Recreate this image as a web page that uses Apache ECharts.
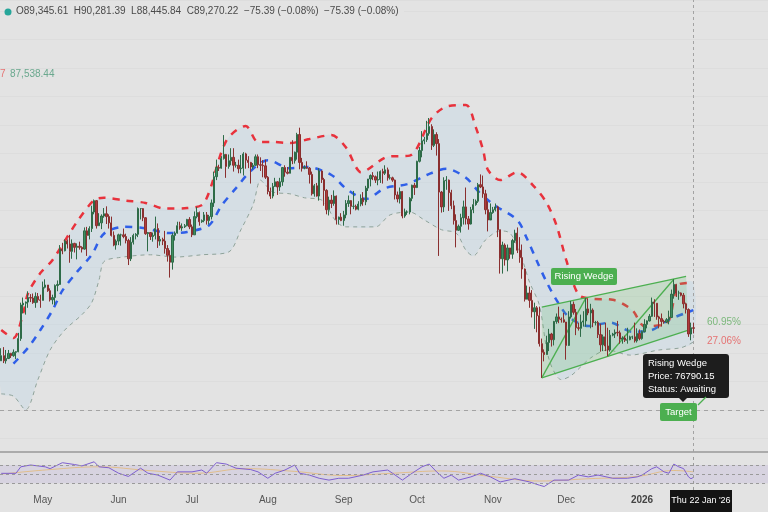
<!DOCTYPE html>
<html>
<head>
<meta charset="utf-8">
<style>
  html, body { margin: 0; padding: 0; background: #e3e3e3; }
  #chart { width: 768px; height: 512px; }
</style>
<script src="https://cdn.jsdelivr.net/npm/echarts@6/dist/echarts.min.js"></script>
</head>
<body>
<div id="chart"></div>
<script>
// daily candles from 2025-04-14, prices in thousands of USD (open = previous close)
const firstOpen = 83.6;
const closes = [
  84.5,83.6,84.0,84.9,84.5,85.1,85.2,87.5,93.4,93.7,93.9,94.7,94.6,93.8,94.9,94.3,94.2,
  96.5,96.9,95.9,94.3,94.7,96.8,97.0,103.2,102.9,104.6,104.1,102.8,104.2,103.5,103.7,103.5,103.2,106.4,105.6,106.8,109.7,111.7,107.3,107.8,109.0,109.4,108.9,107.8,105.6,103.9,104.6,
  105.7,105.7,105.4,104.7,101.5,104.4,105.6,105.8,110.3,110.3,108.7,105.9,106.1,105.4,105.6,106.8,104.6,104.9,104.6,103.3,102.1,100.9,105.6,106.0,107.3,106.9,107.1,107.3,108.4,107.1,
  105.7,108.9,109.6,108.0,108.2,109.2,108.2,108.9,111.3,115.9,117.5,117.4,119.1,119.8,117.7,118.7,119.3,117.9,117.9,117.3,117.4,119.9,118.8,118.4,117.6,117.9,119.4,118.0,117.9,117.8,115.8,
  113.3,112.5,114.2,115.0,114.1,115.0,117.5,116.7,116.5,119.3,118.7,120.2,123.3,118.4,117.4,117.5,117.4,116.3,112.9,114.3,112.5,116.9,115.4,113.5,110.1,111.8,111.2,112.5,108.4,108.8,108.2,
  109.2,111.2,111.7,110.7,110.7,110.2,111.1,112.1,111.5,113.9,115.5,116.1,115.9,115.3,115.4,116.8,116.5,117.1,115.7,115.7,115.3,112.7,112.0,113.3,109.0,109.7,109.7,112.1,114.4,114.0,
  118.6,120.5,122.2,122.4,123.5,124.7,121.4,123.3,121.7,113.2,110.6,115.2,115.3,113.1,110.8,108.2,106.5,107.2,108.7,110.6,108.5,107.6,110.1,111.0,111.6,114.5,114.1,112.9,110.1,108.3,109.6,
  110.1,110.6,106.6,101.5,103.9,101.3,103.4,102.3,104.7,106.0,103.0,101.7,99.7,94.4,95.5,94.2,92.2,92.9,91.5,86.6,85.1,84.7,86.8,88.3,87.3,90.5,91.3,90.9,90.8,90.4,
  86.3,91.3,93.5,92.1,89.4,89.3,90.4,90.6,92.7,92.0,92.5,90.3,90.3,88.2,86.4,87.8,86.2,85.5,88.1,88.3,88.6,88.5,87.4,87.6,87.2,87.3,87.8,87.8,87.1,88.4,87.5,
  88.7,90.0,90.6,91.4,93.9,93.7,91.3,91.0,90.5,90.4,90.8,91.2,95.3,97.0,95.5,95.5,95.1,93.6,92.6,88.3,89.4,89.3
];
const highs = [
  85.8,86.0,85.5,85.5,85.0,85.6,85.3,88.5,93.8,94.7,94.0,95.8,95.3,95.4,95.6,95.5,95.2,
  97.5,97.9,96.9,96.3,95.2,97.0,97.7,103.9,104.3,104.9,104.9,105.7,104.9,104.3,104.2,104.5,103.7,107.0,107.1,107.2,110.8,111.9,111.8,109.5,109.3,110.4,110.7,109.3,108.9,106.3,104.9,
  105.9,105.9,106.8,105.9,105.0,105.3,105.9,106.0,110.5,110.4,110.4,108.8,106.2,106.2,106.1,108.9,107.7,105.5,105.2,106.4,103.9,103.0,106.0,106.3,108.0,108.0,107.7,107.6,108.5,108.8,
  107.5,109.8,110.6,109.8,108.4,109.7,109.7,109.2,111.9,116.8,118.9,118.0,119.5,123.2,119.9,119.8,120.9,120.9,118.5,118.9,119.7,120.2,120.1,119.5,118.5,118.3,119.8,119.8,119.3,118.8,118.9,
  116.0,114.0,114.8,115.7,115.1,115.7,117.6,117.9,117.6,119.3,122.3,120.3,123.6,124.5,119.2,117.9,118.6,117.6,116.8,114.6,114.8,117.4,117.0,115.7,113.7,112.4,112.7,113.5,112.6,108.9,109.5,
  109.9,111.8,112.6,111.8,113.4,111.0,111.6,112.8,113.2,114.3,115.5,116.3,116.7,116.1,116.8,117.0,117.3,117.9,117.5,116.3,115.9,115.4,113.3,114.0,113.4,110.3,110.0,112.3,114.5,114.8,
  118.7,121.1,123.9,122.9,125.7,126.2,125.1,124.2,123.7,122.5,113.4,115.8,116.0,115.4,113.6,111.7,109.3,107.5,109.4,111.7,114.0,109.0,110.6,112.0,111.9,114.8,116.3,116.1,113.6,111.6,111.2,
  110.6,111.2,110.8,106.6,104.5,104.2,104.0,103.4,105.0,106.6,107.0,105.3,104.0,99.8,96.8,96.6,96.0,93.8,93.2,93.1,87.5,85.6,88.0,89.2,88.5,90.6,91.9,93.1,91.2,92.0,
  90.4,92.3,94.1,94.0,92.7,90.3,91.7,92.3,94.6,94.5,93.6,92.8,90.6,90.6,90.1,88.2,90.3,89.4,89.0,88.5,89.1,90.6,88.9,87.9,88.0,89.4,88.0,88.0,90.3,89.3,89.1,
  88.9,90.9,90.7,91.8,94.7,94.4,93.7,91.5,91.9,90.8,91.1,92.4,96.1,97.9,97.1,95.9,95.6,95.5,93.8,92.8,90.3,90.3
];
const lows = [
  83.6,83.2,83.1,83.9,84.1,84.3,83.9,85.1,87.1,91.9,91.7,92.9,93.9,93.6,92.9,93.8,92.9,
  94.2,96.3,95.7,94.0,93.5,93.4,95.8,96.9,102.3,102.8,103.3,100.8,101.5,102.6,101.4,103.1,102.6,103.1,102.0,104.9,106.2,109.3,106.8,107.3,106.7,108.7,107.6,106.8,105.4,103.7,103.1,
  103.9,103.8,105.1,104.2,100.4,101.1,104.0,104.9,105.3,108.4,108.1,105.7,102.8,104.8,104.5,104.9,103.4,103.8,103.9,102.4,101.0,98.2,99.6,104.7,105.9,106.6,106.4,106.9,107.2,106.7,
  105.3,105.7,108.6,107.3,107.8,107.9,107.5,107.5,108.4,110.6,115.3,116.9,117.3,118.9,115.7,117.3,117.9,116.8,117.5,116.5,116.5,116.1,117.3,117.4,114.7,117.2,117.8,117.4,116.9,115.8,115.5,
  112.8,112.0,112.1,114.1,112.7,113.4,114.3,115.9,116.3,116.5,118.1,118.2,118.9,117.2,116.8,117.2,117.3,114.7,112.6,112.4,112.4,111.7,114.8,110.8,109.3,109.1,110.4,110.8,107.5,107.5,108.1,
  107.3,108.6,110.6,109.3,110.2,110.0,110.0,110.7,110.8,110.9,113.4,114.2,115.3,114.8,114.4,114.8,114.7,116.2,115.2,115.4,115.0,111.9,111.4,111.2,108.6,108.7,109.2,109.3,111.6,112.7,
  113.9,118.4,119.3,121.6,122.0,123.1,120.6,121.1,119.6,102.0,109.6,109.7,113.6,109.9,110.2,107.5,103.5,106.4,106.1,107.5,107.5,106.6,107.5,109.5,110.8,111.3,113.9,112.2,109.3,106.3,108.6,
  109.4,109.8,105.3,98.9,98.9,100.3,99.3,101.5,101.5,104.3,102.5,100.8,98.0,94.0,94.4,92.9,91.2,89.2,88.6,86.1,80.6,83.5,84.7,85.3,86.1,86.3,90.1,90.2,90.3,90.3,
  83.8,86.2,91.0,91.7,88.1,88.9,87.8,89.6,89.6,91.6,89.3,89.5,89.8,87.6,85.2,85.3,85.3,84.4,85.2,87.9,87.6,87.9,86.6,86.6,86.9,86.6,87.2,87.4,86.8,86.8,87.2,
  87.3,88.6,89.3,90.5,91.3,91.3,90.8,89.3,89.6,90.1,90.2,90.0,91.1,94.5,94.8,94.3,94.9,92.8,91.9,87.8,87.2,88.4
];

// channel lines: [day index, price]
const upperBand = [[0,89.0],[5,87.6],[9,92.0],[11,95.5],[16,99.0],[21,101.3],[31,108.0],[38,111.8],[42,112.2],[51,111.7],[59,111.3],[67,110.3],[76,110.4],[83,111.3],[92,122.2],[100,124.8],[105,122.0],[111,122.0],[118,121.8],[126,122.5],[135,123.2],[141,121.0],[145,117.6],[147,116.7],[158,119.4],[167,119.6],[176,126.2],[182,128.2],[190,128.5],[194,124.6],[197,120.6],[199,117.1],[204,115.3],[211,116.7],[218,114.1],[223,111.3],[227,107.4],[231,101.3],[236,95.2],[241,94.5],[250,94.3],[258,92.5],[263,89.7],[272,90.1],[277,97.0],[283,97.3]];
const midBand = [[5,83.1],[11,85.9],[16,89.0],[21,92.5],[25,95.9],[31,99.2],[37,102.2],[42,105.9],[50,107.1],[58,106.9],[69,106.0],[76,106.2],[85,107.4],[90,110.8],[96,113.9],[102,116.9],[109,118.8],[118,117.4],[125,117.6],[135,116.2],[141,113.8],[149,112.0],[157,113.9],[166,114.6],[174,116.2],[182,117.3],[190,115.7],[196,112.9],[202,110.8],[211,108.3],[215,105.0],[219,101.1],[223,97.4],[227,94.3],[232,91.3],[240,89.7],[249,90.3],[258,88.7],[266,89.0],[273,90.8],[283,92.5]];
const lowerBand = [[0,77.8],[5,77.4],[10,75.0],[15,80.3],[20,85.5],[26,89.0],[33,91.7],[37,93.8],[40,97.8],[42,101.0],[48,101.7],[61,102.2],[71,101.8],[82,102.2],[93,102.7],[98,106.6],[103,111.0],[106,115.3],[108,114.5],[111,113.2],[118,112.9],[124,112.2],[131,111.8],[137,108.0],[141,107.1],[153,107.1],[159,109.2],[167,109.7],[173,108.3],[180,106.6],[186,106.0],[190,103.0],[193,102.0],[198,104.8],[204,106.4],[208,106.0],[212,102.7],[216,97.4],[220,93.4],[224,83.8],[229,80.3],[233,81.0],[241,84.1],[248,85.5],[257,84.6],[269,85.5],[278,85.9],[283,86.9]];

// rising wedge outline and inner legs (pivot to pivot)
const wedgeUpper = [[221,93.0],[280,98.4]];
const wedgeLower = [[221,80.6],[281,89.0]];
const wedgeLegs = [[[221,80.6],[239,94.6]],[[248,84.4],[275,97.9]]];
const targetPrice = 74.9;

// RSI pane
const rsi = [[0,51.8],[6,51.8],[8,66],[12,70],[18,66],[20,62],[25,75],[30,71],[33,68],[38,77],[40,66],[44,64],[48,52],[52,45],[57,63],[60,52],[64,48],[69,37],[72,55],[78,55],[82,59],[84,52],[88,75],[92,72],[96,63],[102,60],[105,55],[109,41],[112,52],[116,59],[120,70],[122,52],[126,48],[130,41],[134,37],[138,41],[142,41],[148,48],[152,55],[158,59],[160,52],[164,37],[168,52],[172,66],[175,72],[178,55],[181,41],[184,48],[187,37],[192,44],[196,52],[200,44],[204,33],[210,40],[216,33],[220,26],[222,23],[226,37],[232,37],[236,48],[240,44],[244,48],[250,41],[256,41],[260,44],[262,48],[266,62],[268,66],[271,55],[273,52],[275,72],[277,66],[279,62],[281,44],[282,40],[283,43]];
const rsiMa = [[0,50],[20,60],[40,66],[60,58],[80,52],[100,62],[120,56],[140,47],[160,52],[180,57],[200,45],[220,35],[240,40],[260,45],[275,58],[283,55]];

const tickDates = ['2025-05-01','2025-06-01','2025-07-01','2025-08-01','2025-09-01','2025-10-01','2025-11-01','2025-12-01','2026-01-01'];
const tickLabels = ['May','Jun','Jul','Aug','Sep','Oct','Nov','Dec','2026'];

// category axis: every day plus empty space on the right
const padDays = 30;
const dates = [];
const t0 = Date.UTC(2025, 3, 14);
for (let i = 0; i < closes.length + padDays; i++) {
    dates.push(new Date(t0 + i * 86400000).toISOString().slice(0, 10));
}
const lastDay = dates[closes.length - 1];

const candles = closes.map((c, i) => [i ? closes[i - 1] : firstOpen, c, lows[i], highs[i]]);

const myChart = echarts.init(document.getElementById('chart'));
const font = 'Liberation Sans, Arial, sans-serif';
const gridW = dates.length * 2.45;

myChart.setOption({
    backgroundColor: '#e3e3e3',
    animation: false,
    textStyle: { fontFamily: font },
    grid: [
        { left: -1, top: 0, width: gridW, height: 452 },
        { left: -1, top: 454, width: gridW, height: 36 }
    ],
    xAxis: [
        {
            type: 'category', gridIndex: 0, data: dates, boundaryGap: true,
            axisLine: { show: true, lineStyle: { color: '#ababab', width: 2 } },
            axisTick: { show: false }, axisLabel: { show: false }, splitLine: { show: false }
        },
        {
            type: 'category', gridIndex: 1, data: dates, boundaryGap: true,
            axisLine: { show: false }, axisTick: { show: false }, splitLine: { show: false },
            axisLabel: {
                margin: 5, fontSize: 10, color: '#555',
                interval: (i, v) => tickDates.indexOf(v) >= 0,
                formatter: v => {
                    const k = tickDates.indexOf(v);
                    return k === tickLabels.length - 1 ? '{b|' + tickLabels[k] + '}' : tickLabels[k];
                },
                rich: { b: { fontWeight: 'bold', fontSize: 10, color: '#444' } }
            }
        }
    ],
    yAxis: [
        {
            type: 'value', gridIndex: 0, min: 67.6, max: 146.9, splitNumber: 16,
            axisLine: { show: false }, axisTick: { show: false }, axisLabel: { show: false },
            splitLine: { show: true, lineStyle: { color: '#dddddd', width: 1 } }
        },
        {
            type: 'value', gridIndex: 1, min: 15.4, max: 94,
            axisLine: { show: false }, axisTick: { show: false }, axisLabel: { show: false },
            splitLine: { show: false }
        }
    ],
    series: [
        {
            // shaded channel between upper and lower lines
            type: 'custom', xAxisIndex: 0, yAxisIndex: 0, silent: true, z: 1,
            data: [0],
            renderItem: (params, api) => {
                const pts = upperBand.map(p => api.coord(p))
                    .concat(lowerBand.slice().reverse().map(p => api.coord(p)));
                return { type: 'polygon', shape: { points: pts, smooth: 0.3 }, style: { fill: 'rgba(196,214,228,0.45)' } };
            }
        },
        {
            type: 'line', name: 'upper', data: upperBand, smooth: 0.3, showSymbol: false, z: 3,
            lineStyle: { color: '#e8323c', width: 2.5, type: [7, 7] }
        },
        {
            type: 'line', name: 'mid', data: midBand, smooth: 0.3, showSymbol: false, z: 3,
            lineStyle: { color: '#2f5fe8', width: 2.5, type: [7, 7] }
        },
        {
            type: 'line', name: 'lower', data: lowerBand, smooth: 0.3, showSymbol: false, z: 3,
            lineStyle: { color: '#8fa39a', width: 1, type: [4, 4] }
        },
        {
            // rising wedge
            type: 'custom', xAxisIndex: 0, yAxisIndex: 0, silent: true, z: 4,
            data: [0],
            renderItem: (params, api) => {
                const c = p => api.coord(p);
                const poly = [c(wedgeUpper[0]), c(wedgeUpper[1]), c(wedgeLower[1]), c(wedgeLower[0])];
                const lineStyle = { stroke: '#4caf50', lineWidth: 1.3, fill: null };
                const kids = [
                    { type: 'polygon', shape: { points: poly }, style: { fill: 'rgba(90,190,100,0.2)' } },
                    { type: 'polyline', shape: { points: wedgeUpper.map(c) }, style: lineStyle },
                    { type: 'polyline', shape: { points: wedgeLower.map(c) }, style: lineStyle }
                ];
                wedgeLegs.forEach(l => kids.push({ type: 'polyline', shape: { points: l.map(c) }, style: lineStyle }));
                return { type: 'group', children: kids };
            }
        },
        {
            type: 'candlestick', name: 'BTC', data: candles, barWidth: '72%', z: 5,
            itemStyle: {
                color: '#3f8d5f', color0: '#b03c3c',
                borderColor: '#2e6b48', borderColor0: '#8a2f2f', borderWidth: 1
            },
            markLine: {
                silent: true, symbol: 'none', label: { show: false },
                data: [
                    { yAxis: targetPrice, lineStyle: { color: '#a3a3a3', type: [4, 4], width: 1 } },
                    { xAxis: lastDay, lineStyle: { color: '#a3a3a3', type: [3, 3], width: 1 } }
                ]
            }
        },
        {
            type: 'line', name: 'RSI MA', xAxisIndex: 1, yAxisIndex: 1, data: rsiMa, smooth: 0.4,
            showSymbol: false, lineStyle: { color: '#e5b566', width: 1, opacity: 0.7 }
        },
        {
            type: 'line', name: 'RSI', xAxisIndex: 1, yAxisIndex: 1, data: rsi, showSymbol: false,
            lineStyle: { color: '#7e5fd0', width: 1 },
            markArea: {
                silent: true, itemStyle: { color: 'rgba(140,110,210,0.13)' },
                data: [[{ yAxis: 30 }, { yAxis: 70 }]]
            },
            markLine: {
                silent: true, symbol: 'none', label: { show: false },
                lineStyle: { color: '#9a9a9a', type: [3, 3], width: 1 },
                data: [{ yAxis: 70 }, { yAxis: 50 }, { yAxis: 30 }, { xAxis: lastDay }]
            }
        }
    ],
    graphic: {
        elements: [
            { type: 'circle', z: 100, shape: { cx: 8, cy: 12, r: 3.5 }, style: { fill: '#26a69a' } },
            { type: 'rect', z: 99, shape: { x: 14, y: 5, width: 390, height: 14 }, style: { fill: '#e3e3e3' } },
            { type: 'text', z: 100, left: 16, top: 6, style: { text: 'O89,345.61  H90,281.39  L88,445.84  C89,270.22  \u221275.39 (\u22120.08%)  \u221275.39 (\u22120.08%)', fill: '#4a4a4a', font: '10px ' + font } },
            { type: 'text', z: 100, left: 0, top: 69, style: { text: '7', fill: '#e57373', font: '10px ' + font } },
            { type: 'text', z: 100, left: 10, top: 69, style: { text: '87,538.44', fill: '#6aa88e', font: '10px ' + font } },
            { type: 'rect', z: 100, shape: { x: 551, y: 268, width: 66, height: 17, r: 2 }, style: { fill: '#4caf50' } },
            { type: 'text', z: 101, x: 584, y: 276.5, style: { text: 'Rising Wedge', fill: '#fff', font: '9.5px ' + font, align: 'center', verticalAlign: 'middle' } },
            { type: 'text', z: 100, left: 707, top: 317, style: { text: '60.95%', fill: '#7cb87c', font: '10px ' + font } },
            { type: 'text', z: 100, left: 707, top: 336, style: { text: '27.06%', fill: '#e57373', font: '10px ' + font } },
            { type: 'rect', z: 100, shape: { x: 643, y: 354, width: 86, height: 44, r: 3 }, style: { fill: '#1d1d1d' } },
            { type: 'polygon', z: 100, shape: { points: [[679, 398], [687, 398], [683, 402]] }, style: { fill: '#1d1d1d' } },
            { type: 'text', z: 101, left: 648, top: 357, style: { text: 'Rising Wedge\nPrice: 76790.15\nStatus: Awaiting', fill: '#fff', font: '9.5px ' + font, lineHeight: 13 } },
            { type: 'line', z: 100, shape: { x1: 698, y1: 405, x2: 706, y2: 397 }, style: { stroke: '#4caf50', lineWidth: 1.2 } },
            { type: 'rect', z: 100, shape: { x: 660, y: 403, width: 37, height: 18, r: 2 }, style: { fill: '#4caf50' } },
            { type: 'text', z: 101, x: 678.5, y: 412, style: { text: 'Target', fill: '#fff', font: '9.5px ' + font, align: 'center', verticalAlign: 'middle' } },
            { type: 'rect', z: 100, shape: { x: 670, y: 490, width: 62, height: 22 }, style: { fill: '#141414' } },
            { type: 'text', z: 101, x: 701, y: 501, style: { text: 'Thu 22 Jan \'26', fill: '#fff', font: '9px ' + font, align: 'center', verticalAlign: 'middle' } }
        ]
    }
});
window.onresize = myChart.resize;
</script>
</body>
</html>
